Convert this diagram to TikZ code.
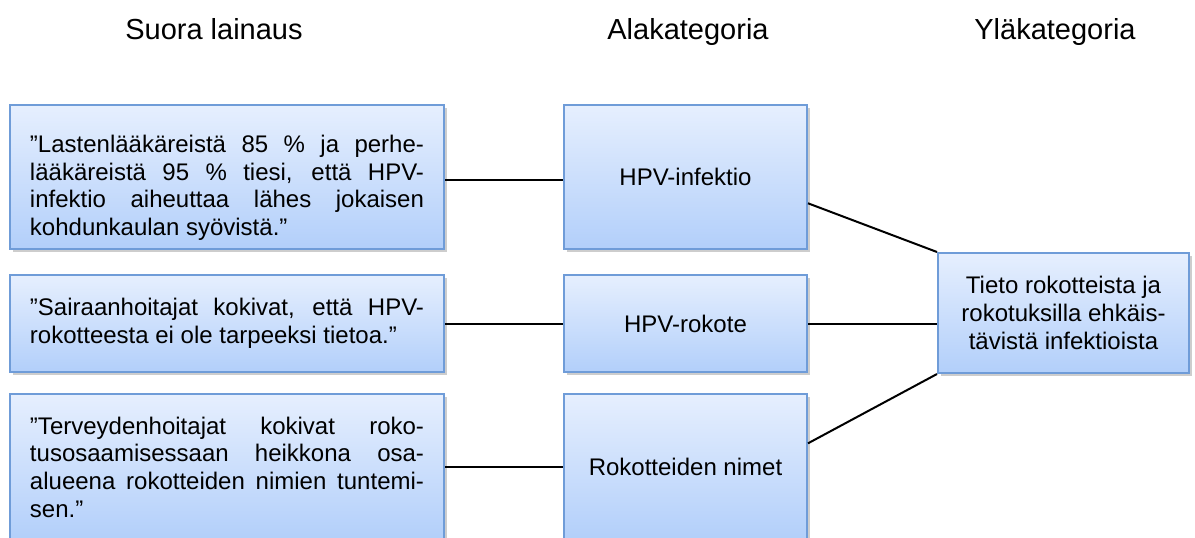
\documentclass[tikz,border=0pt]{standalone}
\usepackage{fontspec}
\setmainfont{Liberation Sans}
\usetikzlibrary{shadows,calc}

\definecolor{boxtop}{HTML}{E6EFFE}
\definecolor{boxbottom}{HTML}{B2CFFA}
\definecolor{boxline}{HTML}{6F9CD8}

% one fully justified line of a quote, set as its own paragraph
\newcommand{\jl}[1]{{\noindent\parfillskip=0pt\relax #1\par}}

\tikzset{
  catbox/.style={draw=boxline, line width=1pt, top color=boxtop, bottom color=boxbottom,
    rectangle, inner sep=0pt, align=center,
    drop shadow={shadow xshift=1.3pt, shadow yshift=-1.5pt, opacity=0.28, fill=black!70},
    font=\fontsize{12pt}{13.85pt}\selectfont},
  quotebox/.style={catbox, minimum width=217pt, text width=197pt, align=justify},
  midbox/.style={catbox, minimum width=121.5pt},
  header/.style={font=\fontsize{14.5pt}{17pt}\selectfont, inner sep=0pt, anchor=base},
  link/.style={line width=1pt, black}
}

\begin{document}
\begin{tikzpicture}[x=0.5pt, y=-0.5pt]
\useasboundingbox[fill=white] (0,0) rectangle (1195,537);

% column headers
\node[header] (h1) at (214,39) {Suora lainaus};
\node[header] (h2) at (688,39) {Alakategoria};
\node[header] (h3) at (1055,39) {Yläkategoria};

% direct quotations
\node[quotebox, minimum height=72pt] (q1) at (227,177) {%
  \jl{\rule{0pt}{19.5pt}”Lastenlääkäreistä 85 \% ja perhe-}%
  \jl{lääkäreistä 95 \% tiesi, että HPV-}%
  \jl{infektio aiheuttaa lähes jokaisen}%
  \noindent kohdunkaulan syövistä.”};
\node[quotebox, minimum height=48.5pt] (q2) at (227,323.5) {%
  \jl{”Sairaanhoitajat kokivat, että HPV-}%
  \noindent rokotteesta ei ole tarpeeksi tietoa.”};
\node[quotebox, minimum height=73pt] (q3) at (227,467) {%
  \jl{”Terveydenhoitajat kokivat roko-}%
  \jl{tusosaamisessaan heikkona osa-}%
  \jl{alueena rokotteiden nimien tuntemi-}%
  \noindent sen.”};

% subcategories
\node[midbox, minimum height=72pt] (m1) at (685.5,177) {\raisebox{-3pt}{HPV-infektio}};
\node[midbox, minimum height=48.5pt] (m2) at (685.5,323.5) {HPV-rokote};
\node[midbox, minimum height=73pt] (m3) at (685.5,467) {Rokotteiden nimet};

% main category
\node[catbox, minimum width=125.5pt, minimum height=60pt] (r) at (1063.5,313)
  {Tieto rokotteista ja\\rokotuksilla ehkäis-\\tävistä infektioista};

% connectors
\draw[link] ($(q1.north east)!0.52!(q1.south east)$) -- ($(m1.north west)!0.52!(m1.south west)$);
\draw[link] (q2.east) -- (m2.west);
\draw[link] (q3.east) -- (m3.west);
\draw[link] ($(m1.north east)!0.68!(m1.south east)$) -- (r.north west);
\draw[link] (m2.east) -- (m2.east -| r.west);
\draw[link] ($(m3.north east)!0.34!(m3.south east)$) -- (r.south west);
\end{tikzpicture}
\end{document}
